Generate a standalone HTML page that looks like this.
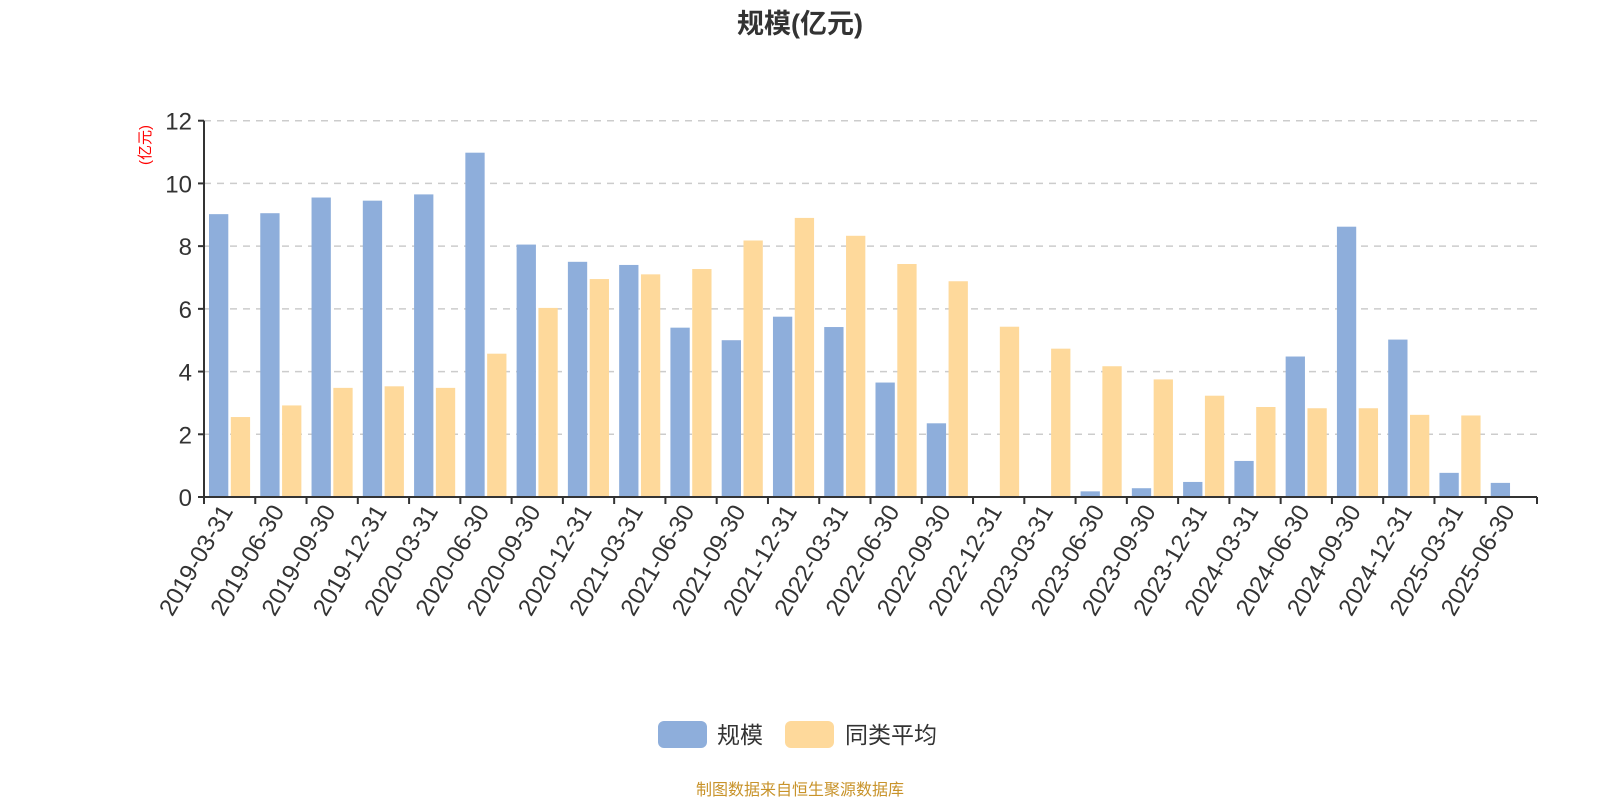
<!DOCTYPE html>
<html><head><meta charset="utf-8"><style>
body{margin:0;background:#fff;font-family:"Liberation Sans","Noto Sans CJK SC",sans-serif}
</style></head><body>
<svg id="c" width="1600" height="800" xmlns="http://www.w3.org/2000/svg">
<text x="800" y="33" text-anchor="middle" font-size="27" font-weight="bold" fill="#333" font-family="Liberation Sans,Noto Sans CJK SC,sans-serif">规模(亿元)</text>
<text transform="translate(150,145) rotate(-90)" text-anchor="middle" font-size="15" fill="#f00" font-family="Liberation Sans,Noto Sans CJK SC,sans-serif">(亿元)</text>
<g id="grid"></g><g id="bars"></g><g id="axes"></g>
<g>
<rect x="658" y="721" width="49" height="27" rx="6" fill="#8eaedb"/>
<text x="717" y="743" font-size="23" fill="#333" font-family="Liberation Sans,Noto Sans CJK SC,sans-serif">规模</text>
<rect x="785" y="721" width="49" height="27" rx="6" fill="#fed99b"/>
<text x="845" y="743" font-size="23" fill="#333" font-family="Liberation Sans,Noto Sans CJK SC,sans-serif">同类平均</text>
</g>
<text x="800" y="795" text-anchor="middle" font-size="16" fill="#c8932a" font-family="Liberation Sans,Noto Sans CJK SC,sans-serif">制图数据来自恒生聚源数据库</text>
</svg>
<script>
const categories=["2019-03-31","2019-06-30","2019-09-30","2019-12-31","2020-03-31","2020-06-30","2020-09-30","2020-12-31","2021-03-31","2021-06-30","2021-09-30","2021-12-31","2022-03-31","2022-06-30","2022-09-30","2022-12-31","2023-03-31","2023-06-30","2023-09-30","2023-12-31","2024-03-31","2024-06-30","2024-09-30","2024-12-31","2025-03-31","2025-06-30"];
const scaleValues=[9.02,9.05,9.55,9.45,9.65,10.98,8.05,7.5,7.4,5.4,5.0,5.75,5.42,3.65,2.35,0.03,0.03,0.18,0.28,0.48,1.15,4.48,8.62,5.02,0.77,0.45];
const avgValues=[2.55,2.92,3.48,3.53,3.48,4.57,6.03,6.95,7.1,7.27,8.18,8.9,8.33,7.43,6.88,5.43,4.73,4.17,3.75,3.23,2.87,2.83,2.83,2.62,2.6,null];
const yTicks=[0,2,4,6,8,10,12];
const NS="http://www.w3.org/2000/svg";
const X0=204,X1=1537,Y0=497,Y1=120.7,YMAX=12;
const cw=(X1-X0)/categories.length;
const y=v=>Y0-(v/YMAX)*(Y0-Y1);
const xc=i=>X0+i*cw;
function mk(t,a,p){const e=document.createElementNS(NS,t);for(const k in a)e.setAttribute(k,a[k]);p.appendChild(e);return e;}
const grid=document.getElementById('grid'),bars=document.getElementById('bars'),axes=document.getElementById('axes');
yTicks.forEach(t=>{
 if(t>0){const l=mk('line',{x1:X0,x2:X1,y1:y(t),y2:y(t),stroke:'#ccc','stroke-width':1.5,'stroke-dasharray':'7,6'},grid);
 
 }
 const tk=mk('line',{x1:X0-6,x2:X0,y1:y(t),y2:y(t),stroke:'#333','stroke-width':2},axes);
 
 
 const tx=mk('text',{x:X0-12,y:y(t)+9,'text-anchor':'end','font-size':24,fill:'#333','font-family':'Liberation Sans,sans-serif'},axes);
 tx.textContent=t;
 
 
});
categories.forEach((c,i)=>{
 const bw=19.3;
 const v=scaleValues[i];
 if(v!=null){const r=mk('rect',{x:xc(i)+5,y:y(v),width:bw,height:Y0-y(v),fill:'#8eaedb'},bars);
 
 }
 const a=avgValues[i];
 if(a!=null){const r=mk('rect',{x:xc(i)+5+bw+2.5,y:y(a),width:bw,height:Y0-y(a),fill:'#fed99b'},bars);
 
 }
 const tk=mk('line',{x1:xc(i),x2:xc(i),y1:Y0,y2:Y0+7,stroke:'#333','stroke-width':2},axes);
 
 
 const tx=mk('text',{transform:`translate(${xc(i)+cw/2+4},${Y0+14}) rotate(-60)`,'text-anchor':'end','font-size':24,fill:'#333','font-family':'Liberation Sans,sans-serif'},axes);
 tx.textContent=c;
 
 
});
const et=mk('line',{x1:X1,x2:X1,y1:Y0,y2:Y0+7,stroke:'#333','stroke-width':2},axes);


const ya=mk('line',{x1:X0,x2:X0,y1:Y1,y2:Y0,stroke:'#333','stroke-width':2},axes);


const xa=mk('line',{x1:X0,x2:X1,y1:Y0,y2:Y0,stroke:'#333','stroke-width':2},axes);


</script>
</body></html>
